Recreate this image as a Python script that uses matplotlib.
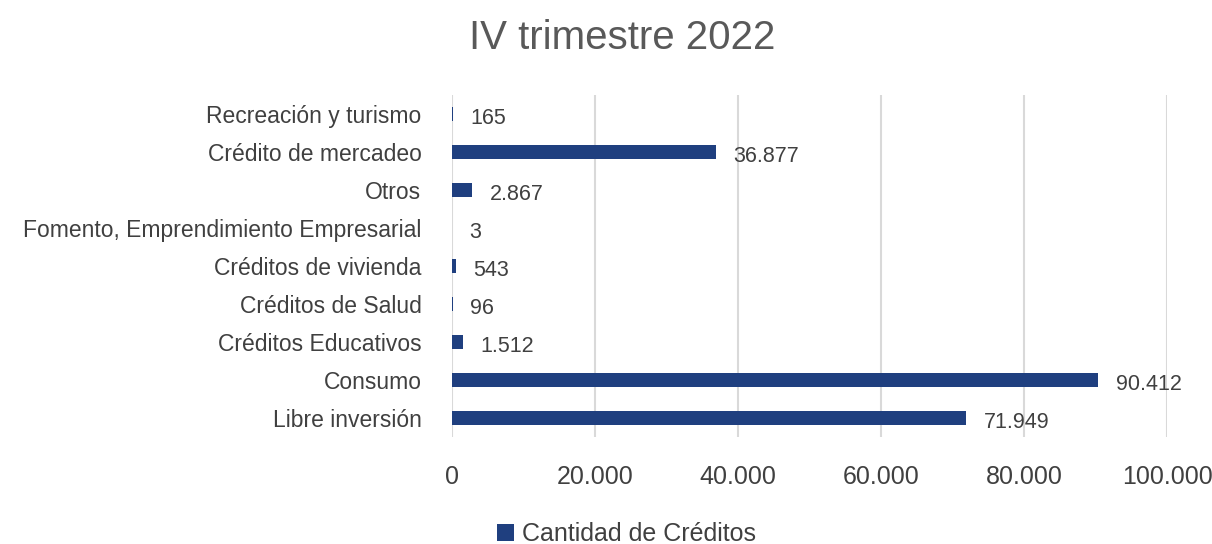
import matplotlib
matplotlib.use('Agg')
import matplotlib.pyplot as plt
from matplotlib.ticker import FuncFormatter

categorias = ['Libre inversión', 'Consumo', 'Créditos Educativos', 'Créditos de Salud',
              'Créditos de vivienda', 'Fomento, Emprendimiento Empresarial', 'Otros',
              'Crédito de mercadeo', 'Recreación y turismo']
valores = [71949, 90412, 1512, 96, 543, 3, 2867, 36877, 165]
ticks_x = [0, 20000, 40000, 60000, 80000, 100000]

plt.rcParams['font.family'] = ['Liberation Sans', 'DejaVu Sans']

azul = '#1F3F7F'
gris = '#404040'

def miles(v):
    return f'{int(v):,}'.replace(',', '.')

fig = plt.figure(figsize=(12.12, 5.44), dpi=100)
ax = fig.add_axes([452/1212, 1 - 437/544, (1167-452)/1212, (437-95)/544])

ypos = range(len(categorias))
ax.barh(ypos, valores, height=0.35, color=azul, zorder=3)
for y, v in zip(ypos, valores):
    ax.text(v + 2400, y - 0.12, miles(v), va='center', ha='left', fontsize=15.5, color=gris)

ax.set_xlim(0, 100000)
ax.set_ylim(-0.5, len(categorias) - 0.5)
ax.set_yticks(list(ypos))
ax.set_yticklabels(categorias, fontsize=16.5, color=gris)
ax.set_xticks(ticks_x)
ax.xaxis.set_major_formatter(FuncFormatter(lambda v, p: miles(v)))
ax.tick_params(axis='x', labelsize=18, labelcolor=gris, length=0, pad=20)
ax.tick_params(axis='y', length=0, pad=22)
ax.grid(axis='x', color='#d9d9d9', linewidth=1.5, zorder=0)
for s in ax.spines.values():
    s.set_visible(False)

fig.suptitle('IV trimestre 2022', x=0.513, y=0.965, fontsize=29, color='#595959')

ax.legend(['Cantidad de Créditos'], loc='center', bbox_to_anchor=(626/1212, 1 - 534/544),
          bbox_transform=fig.transFigure, frameon=False, fontsize=18,
          handlelength=0.7, handleheight=0.7, handletextpad=0.3, labelcolor=gris)

fig.savefig('out.png', dpi=100)
